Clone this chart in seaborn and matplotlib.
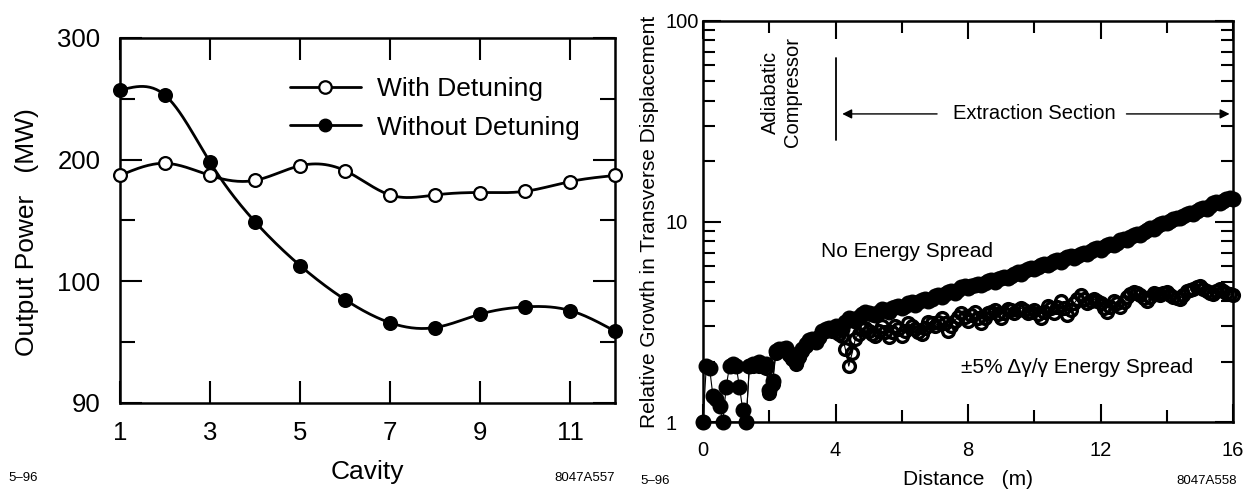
import numpy as np
import matplotlib
matplotlib.use('Agg')
import matplotlib.pyplot as plt
import seaborn as sns
from matplotlib.lines import Line2D
from matplotlib.ticker import NullFormatter

# ==============================================
# DATOS
# ==============================================
# Panel izquierdo: potencia de salida por cavidad (eje en unidades del grafico)
cavidad = [1, 2, 3, 4, 5, 6, 7, 8, 9, 10, 11, 12]
con_detuning = [187, 197, 187, 183, 195, 191, 171, 171, 173, 174, 182, 187]
sin_detuning = [257, 253, 198, 149, 113, 85, 66, 62, 73, 79, 76, 59]
y_ticks_pos = [0, 100, 200, 300]
y_ticks_lbl = ['90', '100', '200', '300']

# Panel derecho: crecimiento relativo vs distancia (muestreo cada 0.1 m)
distancia = [round(0.1 * i, 1) for i in range(161)]
sin_dispersion = [
    1.0, 1.9, 1.85, 1.35, 1.3, 1.2, 1.0, 1.5, 1.9, 1.95,
    1.9, 1.5, 1.15, 1.0, 1.9, 1.95, 1.95, 2.0, 1.9, 1.95,
    1.45, 1.6, 2.25, 2.3, 2.3, 2.35, 2.2, 2.1, 2.0, 2.15,
    2.3, 2.45, 2.55, 2.6, 2.5, 2.65, 2.85, 2.9, 2.95, 2.9,
    3.0, 2.95, 2.9, 3.15, 3.3, 3.25, 3.2, 3.35, 3.45, 3.55,
    3.5, 3.45, 3.4, 3.55, 3.65, 3.6, 3.55, 3.7, 3.75, 3.8,
    3.7, 3.8, 3.9, 3.95, 3.85, 3.95, 4.05, 4.1, 4.0, 4.1,
    4.25, 4.3, 4.2, 4.35, 4.45, 4.5, 4.4, 4.55, 4.7, 4.75,
    4.65, 4.75, 4.85, 4.9, 4.8, 4.95, 5.05, 5.1, 5.0, 5.15,
    5.25, 5.3, 5.2, 5.35, 5.5, 5.6, 5.5, 5.65, 5.8, 5.85,
    5.8, 5.95, 6.1, 6.15, 6.05, 6.2, 6.35, 6.45, 6.3, 6.5,
    6.65, 6.7, 6.6, 6.75, 6.9, 7.0, 6.9, 7.1, 7.3, 7.35,
    7.25, 7.45, 7.65, 7.7, 7.6, 7.85, 8.05, 8.15, 8.1, 8.35,
    8.6, 8.7, 8.6, 8.9, 9.1, 9.25, 9.2, 9.45, 9.7, 9.85,
    9.8, 10.05, 10.3, 10.45, 10.4, 10.65, 10.9, 11.05, 10.9, 11.25,
    11.5, 11.7, 11.6, 11.95, 12.3, 12.5, 12.4, 12.7, 12.9, 13.1,
    13.0,
]
distancia_disp = [0.0, 1.3] + [round(1.4 + 0.1 * i, 1) for i in range(147)]
con_dispersion = [
    1.0, 1.0,
    1.9, 1.9, 1.95, 1.9, 1.95, 1.85,
    1.4, 1.55, 2.2, 2.25, 2.3, 2.3, 2.15, 2.05, 1.95, 2.1,
    2.25, 2.4, 2.5, 2.55, 2.55, 2.65, 2.8, 2.85, 2.9, 2.85,
    2.8, 2.75, 2.7, 2.3, 1.9, 2.2, 2.6, 2.75, 2.9, 2.95,
    2.85, 2.75, 2.7, 2.85, 3.0, 2.8, 2.65, 2.8, 3.0, 2.9,
    2.7, 2.85, 3.1, 3.0, 2.9, 2.8, 2.75, 2.95, 3.15, 3.1,
    3.0, 3.15, 3.3, 3.1, 2.85, 3.0, 3.2, 3.35, 3.5, 3.35,
    3.2, 3.4, 3.55, 3.3, 3.1, 3.3, 3.5, 3.55, 3.6, 3.45,
    3.3, 3.5, 3.65, 3.6, 3.5, 3.6, 3.7, 3.6, 3.5, 3.55,
    3.6, 3.45, 3.3, 3.55, 3.8, 3.7, 3.5, 3.75, 4.0, 3.7,
    3.4, 3.6, 3.9, 4.1, 4.3, 4.1, 3.9, 4.0, 4.1, 4.0,
    3.9, 3.7, 3.55, 3.75, 4.0, 3.9, 3.75, 3.95, 4.2, 4.35,
    4.45, 4.4, 4.3, 4.15, 4.0, 4.2, 4.4, 4.35, 4.3, 4.4,
    4.45, 4.3, 4.2, 4.15, 4.1, 4.3, 4.5, 4.55, 4.6, 4.7,
    4.75, 4.6, 4.5, 4.4, 4.35, 4.5, 4.6, 4.5, 4.4, 4.35,
    4.3,
]

# ==============================================
# ESTILO
# ==============================================
sns.set_style('ticks')
plt.rcParams['font.family'] = ['Liberation Sans', 'DejaVu Sans']
plt.rcParams['axes.linewidth'] = 1.8
plt.rcParams['axes.edgecolor'] = 'black'
plt.rcParams['xtick.color'] = 'black'
plt.rcParams['ytick.color'] = 'black'
plt.rcParams['text.color'] = 'black'
plt.rcParams['axes.labelcolor'] = 'black'

W, H = 1247, 491


def spline_natural(x, y, n=300):
    """Curva suave (spline cubica natural) a traves de los puntos"""
    x = np.asarray(x, float)
    y = np.asarray(y, float)
    h = np.diff(x)
    m = len(x)
    A = np.zeros((m, m))
    b = np.zeros(m)
    A[0, 0] = A[-1, -1] = 1
    for i in range(1, m - 1):
        A[i, i - 1] = h[i - 1]
        A[i, i] = 2 * (h[i - 1] + h[i])
        A[i, i + 1] = h[i]
        b[i] = 3 * ((y[i + 1] - y[i]) / h[i] - (y[i] - y[i - 1]) / h[i - 1])
    c = np.linalg.solve(A, b)
    bc = (y[1:] - y[:-1]) / h - h * (2 * c[:-1] + c[1:]) / 3
    d = (c[1:] - c[:-1]) / (3 * h)
    xs = np.linspace(x[0], x[-1], n)
    idx = np.clip(np.searchsorted(x, xs) - 1, 0, m - 2)
    dx = xs - x[idx]
    ys = y[idx] + bc[idx] * dx + c[idx] * dx ** 2 + d[idx] * dx ** 3
    return xs, ys


def panel_cavidad(ax):
    for serie, cara in [(con_detuning, 'white'), (sin_detuning, 'black')]:
        xs, ys = spline_natural(cavidad, serie)
        sns.lineplot(x=xs, y=ys, ax=ax, color='black', lw=2.0, legend=False)
        sns.scatterplot(x=cavidad, y=serie, ax=ax, marker='o', s=85,
                        facecolor=cara, edgecolor='black', linewidth=1.6,
                        zorder=3, legend=False, clip_on=False)

    ax.set_xlim(1, 12)
    ax.set_ylim(0, 300)
    ax.set_xticks([1, 3, 5, 7, 9, 11])
    ax.set_yticks(y_ticks_pos)
    ax.set_yticklabels(y_ticks_lbl)
    ax.set_yticks([50, 150, 250], minor=True)
    ax.tick_params(which='major', direction='in', length=15.5, width=1.5,
                   top=True, right=True, labelsize=18.5)
    ax.tick_params(which='minor', direction='in', length=11, width=1.5,
                   left=True, right=True)
    ax.tick_params(axis='x', pad=13)
    ax.tick_params(axis='y', pad=14)
    ax.set_xlabel('Cavity', fontsize=19, labelpad=11)
    ax.set_ylabel('Output Power   (MW)', fontsize=19)
    ax.yaxis.set_label_coords(-0.163, 0.468)

    handles = [
        Line2D([], [], color='black', lw=2, marker='o', markersize=9,
               markerfacecolor='white', markeredgecolor='black', markeredgewidth=1.6),
        Line2D([], [], color='black', lw=2, marker='o', markersize=9,
               markerfacecolor='black', markeredgecolor='black'),
    ]
    ax.legend(handles, ['With Detuning', 'Without Detuning'], loc='upper left',
              bbox_to_anchor=(0.343, 0.893), frameon=False, fontsize=19,
              handlelength=2.7, handletextpad=0.6, labelspacing=0.55,
              borderaxespad=0, borderpad=0)


def panel_distancia(ax):
    sns.lineplot(x=distancia_disp, y=con_dispersion, ax=ax, estimator=None,
                 color='black', lw=0.8, marker='o', markersize=8.5,
                 markerfacecolor='none', markeredgecolor='black',
                 markeredgewidth=2.4, zorder=2, clip_on=False)
    sns.lineplot(x=distancia, y=sin_dispersion, ax=ax, estimator=None,
                 color='black', lw=0.8, marker='o', markersize=10.5,
                 markerfacecolor='black', markeredgecolor='black',
                 markeredgewidth=1.0, zorder=3, clip_on=False)

    ax.set_yscale('log')
    ax.set_xlim(0, 16)
    ax.set_ylim(1, 100)
    ax.set_xticks([0, 4, 8, 12, 16])
    ax.set_xticks([2, 6, 10, 14], minor=True)
    ax.set_yticks([1, 10, 100])
    ax.set_yticklabels(['1', '10', '100'])
    ax.set_yticks([2, 3, 4, 5, 6, 7, 8, 9, 20, 30, 40, 50, 60, 70, 80, 90], minor=True)
    ax.yaxis.set_minor_formatter(NullFormatter())
    ax.tick_params(which='major', direction='in', length=13, width=1.5,
                   top=True, right=True, labelsize=14.5)
    ax.tick_params(which='minor', direction='in', length=8.5, width=1.5,
                   top=True, right=True)
    ax.tick_params(axis='x', pad=14)
    ax.tick_params(axis='y', pad=27)
    for lbl in ax.get_yticklabels():
        lbl.set_horizontalalignment('left')
    ax.set_xlabel('Distance   (m)', fontsize=15, labelpad=7)
    ax.set_ylabel('Relative Growth in Transverse Displacement', fontsize=15, labelpad=5)

    # Anotaciones
    ax.plot([4, 4], [25.5, 65.6], color='black', lw=1.3)
    ax.text(2.36, 44, 'Adiabatic\nCompressor', rotation=90, ha='center',
            va='center', fontsize=14.5, multialignment='center')
    ax.text(10.0, 34.4, 'Extraction Section', ha='center', va='center', fontsize=14.5)
    ax.annotate('', xy=(4.12, 34.4), xytext=(7.15, 34.4),
                arrowprops=dict(arrowstyle='-|>', color='black', lw=1.0,
                                mutation_scale=14))
    ax.annotate('', xy=(15.98, 34.4), xytext=(12.7, 34.4),
                arrowprops=dict(arrowstyle='-|>', color='black', lw=1.0,
                                mutation_scale=14))
    ax.text(6.16, 7.1, 'No Energy Spread', ha='center', va='center', fontsize=15)
    ax.text(11.3, 1.88, '\u00b15% \u0394\u03b3/\u03b3 Energy Spread', ha='center',
            va='center', fontsize=15)


if __name__ == "__main__":
    fig = plt.figure(figsize=(W / 100, H / 100), dpi=100)
    ax1 = fig.add_axes([120 / W, 88 / H, 495 / W, 365 / H])
    ax2 = fig.add_axes([703 / W, 69 / H, 530 / W, 401 / H])

    panel_cavidad(ax1)
    panel_distancia(ax2)

    # Codigos de figura
    fig.text(8 / W, 1 - 478 / H, '5\u201396', fontsize=9.5, va='center')
    fig.text(615 / W, 1 - 478 / H, '8047A557', fontsize=9.5, va='center', ha='right')
    fig.text(640 / W, 1 - 481 / H, '5\u201396', fontsize=9.5, va='center')
    fig.text(1237 / W, 1 - 481 / H, '8047A558', fontsize=9.5, va='center', ha='right')

    fig.savefig('out.png', dpi=100)
    plt.close(fig)
